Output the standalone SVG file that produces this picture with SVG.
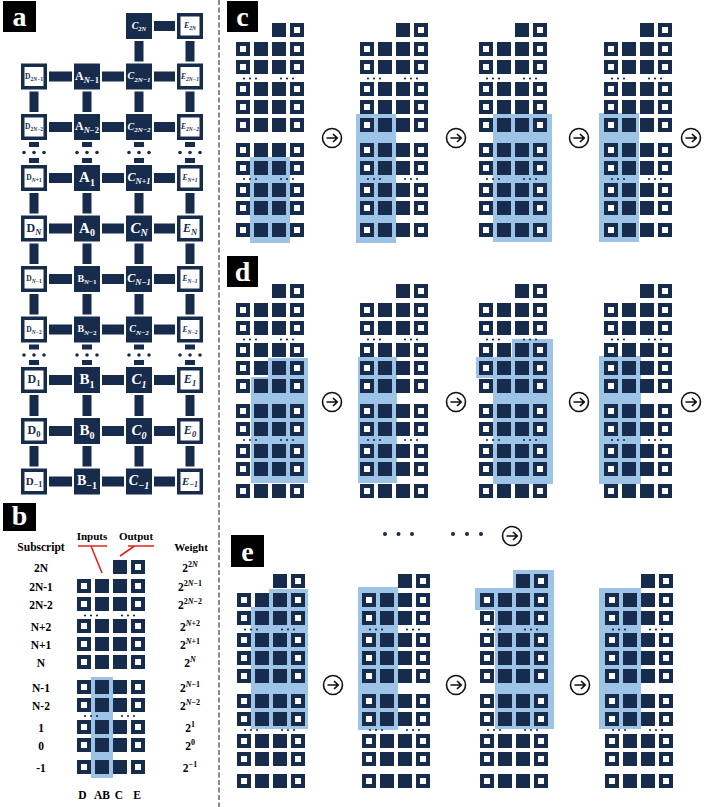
<svg xmlns="http://www.w3.org/2000/svg" width="706" height="807" viewBox="0 0 706 807">
<style>
.dk{fill:#172b4d}
.hl{fill:#9dc3e6}
.fb{fill:#172b4d}
.ob{fill:#fff;stroke:#172b4d;stroke-width:3.5}
.cn{fill:#172b4d}
.t{font-family:"Liberation Serif","DejaVu Serif",serif;font-weight:700;text-anchor:middle}
.lw{fill:#fff}
.ld{fill:#172b4d}
.k{fill:#000}
.i{font-style:italic}
.red{stroke:#e3241b;stroke-width:1.6;fill:none}
.tagt{font-family:"Liberation Serif","DejaVu Serif",serif;font-weight:700;font-size:28px;fill:#fff;text-anchor:middle}
.bt{font-size:11.5px}
</style>
<defs>
<rect id="F" width="14" height="14" class="dk"/>
<g id="O"><rect width="14" height="14" class="dk"/><rect x="4" y="4" width="6" height="6" fill="#fff"/></g>
<g id="arr">
<use href="#F" x="36" y="0"/><use href="#O" x="54" y="0"/>
<use href="#O" x="0" y="19"/><use href="#F" x="18" y="19"/><use href="#F" x="36" y="19"/><use href="#O" x="54" y="19"/>
<use href="#O" x="0" y="37"/><use href="#F" x="18" y="37"/><use href="#F" x="36" y="37"/><use href="#O" x="54" y="37"/>
<use href="#O" x="0" y="59"/><use href="#F" x="18" y="59"/><use href="#F" x="36" y="59"/><use href="#O" x="54" y="59"/>
<use href="#O" x="0" y="77"/><use href="#F" x="18" y="77"/><use href="#F" x="36" y="77"/><use href="#O" x="54" y="77"/>
<use href="#O" x="0" y="95"/><use href="#F" x="18" y="95"/><use href="#F" x="36" y="95"/><use href="#O" x="54" y="95"/>
<use href="#O" x="0" y="120"/><use href="#F" x="18" y="120"/><use href="#F" x="36" y="120"/><use href="#O" x="54" y="120"/>
<use href="#O" x="0" y="138"/><use href="#F" x="18" y="138"/><use href="#F" x="36" y="138"/><use href="#O" x="54" y="138"/>
<use href="#O" x="0" y="160"/><use href="#F" x="18" y="160"/><use href="#F" x="36" y="160"/><use href="#O" x="54" y="160"/>
<use href="#O" x="0" y="178"/><use href="#F" x="18" y="178"/><use href="#F" x="36" y="178"/><use href="#O" x="54" y="178"/>
<use href="#O" x="0" y="200"/><use href="#F" x="18" y="200"/><use href="#F" x="36" y="200"/><use href="#O" x="54" y="200"/>
<g class="dk">
<circle cx="8" cy="55.5" r="1.1"/><circle cx="14" cy="55.5" r="1.1"/><circle cx="20" cy="55.5" r="1.1"/>
<circle cx="45" cy="55.5" r="1.1"/><circle cx="51" cy="55.5" r="1.1"/><circle cx="57" cy="55.5" r="1.1"/>
<circle cx="8" cy="156" r="1.1"/><circle cx="14" cy="156" r="1.1"/><circle cx="20" cy="156" r="1.1"/>
<circle cx="45" cy="156" r="1.1"/><circle cx="51" cy="156" r="1.1"/><circle cx="57" cy="156" r="1.1"/>
</g>
</g>
<g id="AR"><circle r="9.5" fill="#fff" stroke="#111" stroke-width="1.6"/><path d="M-5.5 0H5M1 -4L5.2 0L1 4" fill="none" stroke="#111" stroke-width="1.7"/></g>
</defs>

<rect width="706" height="807" fill="#fff"/>

<!-- divider -->
<line x1="219" y1="0" x2="219" y2="807" stroke="#8a8a8a" stroke-width="2" stroke-dasharray="5 2.5"/>

<!-- panel tags -->
<g id="tag-a"><rect x="3" y="1" width="33" height="31" fill="#000"/><text class="tagt" x="19.5" y="26">a</text></g>
<g id="tag-b"><rect x="3" y="503" width="33" height="28" fill="#000"/><text class="tagt" x="19.5" y="525">b</text></g>
<g id="tag-c"><rect x="227" y="1" width="31" height="31" fill="#000"/><text class="tagt" x="242.5" y="26">c</text></g>
<g id="tag-d"><rect x="227" y="256" width="31" height="31" fill="#000"/><text class="tagt" x="242.5" y="281">d</text></g>
<g id="tag-e"><rect x="231" y="535" width="33" height="32" fill="#000"/><text class="tagt" x="247.5" y="561">e</text></g>

<!-- panel a connectors -->
<g id="a-connectors" class="cn">
<rect x="154" y="21" width="21" height="10"/>
<rect x="49" y="71.5" width="23" height="10"/><rect x="102" y="71.5" width="22" height="10"/><rect x="154" y="71.5" width="21" height="10"/>
<rect x="49" y="122" width="23" height="10"/><rect x="102" y="122" width="22" height="10"/><rect x="154" y="122" width="21" height="10"/>
<rect x="49" y="173" width="23" height="10"/><rect x="102" y="173" width="22" height="10"/><rect x="154" y="173" width="21" height="10"/>
<rect x="49" y="223.5" width="23" height="10"/><rect x="102" y="223.5" width="22" height="10"/><rect x="154" y="223.5" width="21" height="10"/>
<rect x="49" y="274" width="23" height="10"/><rect x="102" y="274" width="22" height="10"/><rect x="154" y="274" width="21" height="10"/>
<rect x="49" y="324.5" width="23" height="10"/><rect x="102" y="324.5" width="22" height="10"/><rect x="154" y="324.5" width="21" height="10"/>
<rect x="49" y="375" width="23" height="10"/><rect x="102" y="375" width="22" height="10"/><rect x="154" y="375" width="21" height="10"/>
<rect x="49" y="426" width="23" height="10"/><rect x="102" y="426" width="22" height="10"/><rect x="154" y="426" width="21" height="10"/>
<rect x="49" y="476.5" width="23" height="10"/><rect x="102" y="476.5" width="22" height="10"/><rect x="154" y="476.5" width="21" height="10"/>
<!-- verticals -->
<rect x="134.5" y="41" width="9" height="20.5"/><rect x="185.5" y="41" width="9" height="20.5"/>
<rect x="29.5" y="91.5" width="9" height="20.5"/><rect x="82.5" y="91.5" width="9" height="20.5"/><rect x="134.5" y="91.5" width="9" height="20.5"/><rect x="185.5" y="91.5" width="9" height="20.5"/>
<rect x="29" y="142" width="10" height="5"/><rect x="82" y="142" width="10" height="5"/><rect x="134" y="142" width="10" height="5"/><rect x="185" y="142" width="10" height="5"/>
<rect x="29" y="158" width="10" height="5"/><rect x="82" y="158" width="10" height="5"/><rect x="134" y="158" width="10" height="5"/><rect x="185" y="158" width="10" height="5"/>
<circle cx="24" cy="152.5" r="1.8"/><circle cx="34" cy="152.5" r="1.8"/><circle cx="44" cy="152.5" r="1.8"/>
<circle cx="77" cy="152.5" r="1.8"/><circle cx="87" cy="152.5" r="1.8"/><circle cx="97" cy="152.5" r="1.8"/>
<circle cx="129" cy="152.5" r="1.8"/><circle cx="139" cy="152.5" r="1.8"/><circle cx="149" cy="152.5" r="1.8"/>
<circle cx="180" cy="152.5" r="1.8"/><circle cx="190" cy="152.5" r="1.8"/><circle cx="200" cy="152.5" r="1.8"/>
<rect x="29.5" y="193" width="9" height="20.5"/><rect x="82.5" y="193" width="9" height="20.5"/><rect x="134.5" y="193" width="9" height="20.5"/><rect x="185.5" y="193" width="9" height="20.5"/>
<rect x="29.5" y="243.5" width="9" height="20.5"/><rect x="82.5" y="243.5" width="9" height="20.5"/><rect x="134.5" y="243.5" width="9" height="20.5"/><rect x="185.5" y="243.5" width="9" height="20.5"/>
<rect x="29.5" y="294" width="9" height="20.5"/><rect x="82.5" y="294" width="9" height="20.5"/><rect x="134.5" y="294" width="9" height="20.5"/><rect x="185.5" y="294" width="9" height="20.5"/>
<rect x="29" y="344.5" width="10" height="5"/><rect x="82" y="344.5" width="10" height="5"/><rect x="134" y="344.5" width="10" height="5"/><rect x="185" y="344.5" width="10" height="5"/>
<rect x="29" y="360" width="10" height="5"/><rect x="82" y="360" width="10" height="5"/><rect x="134" y="360" width="10" height="5"/><rect x="185" y="360" width="10" height="5"/>
<circle cx="24" cy="355" r="1.8"/><circle cx="34" cy="355" r="1.8"/><circle cx="44" cy="355" r="1.8"/>
<circle cx="77" cy="355" r="1.8"/><circle cx="87" cy="355" r="1.8"/><circle cx="97" cy="355" r="1.8"/>
<circle cx="129" cy="355" r="1.8"/><circle cx="139" cy="355" r="1.8"/><circle cx="149" cy="355" r="1.8"/>
<circle cx="180" cy="355" r="1.8"/><circle cx="190" cy="355" r="1.8"/><circle cx="200" cy="355" r="1.8"/>
<rect x="29.5" y="395" width="9" height="21"/><rect x="82.5" y="395" width="9" height="21"/><rect x="134.5" y="395" width="9" height="21"/><rect x="185.5" y="395" width="9" height="21"/>
<rect x="29.5" y="446" width="9" height="20.5"/><rect x="82.5" y="446" width="9" height="20.5"/><rect x="134.5" y="446" width="9" height="20.5"/><rect x="185.5" y="446" width="9" height="20.5"/>
</g>

<!-- panel a nodes -->
<g id="a-C2N"><rect class="fb" x="126" y="13" width="26" height="26"/><text class="t lw i" x="139" y="28.8" font-size="10">C<tspan font-size="6.5" dy="2.5">2N</tspan></text></g>
<g id="a-E2N"><rect class="ob" x="178.75" y="14.75" width="22.5" height="22.5"/><text class="t ld i" x="190" y="28.2" font-size="8">E<tspan font-size="5.5" dy="2">2N</tspan></text></g>

<g id="a-D2N-1"><rect class="ob" x="22.75" y="65.25" width="22.5" height="22.5"/><text class="t ld" x="34" y="78.6" font-size="7.5">D<tspan font-size="5.5" dy="1.9">2<tspan class="i">N</tspan>−1</tspan></text></g>
<g id="a-AN-1"><rect class="fb" x="74" y="63.5" width="26" height="26"/><text class="t lw" x="87" y="79.9" font-size="12">A<tspan font-size="8.5" dy="3"><tspan class="i">N</tspan>−1</tspan></text></g>
<g id="a-C2N-1"><rect class="fb" x="126" y="63.5" width="26" height="26"/><text class="t lw i" x="139" y="79.3" font-size="10">C<tspan font-size="7" dy="2.5">2N−1</tspan></text></g>
<g id="a-E2N-1"><rect class="ob" x="178.75" y="65.25" width="22.5" height="22.5"/><text class="t ld i" x="190" y="78.6" font-size="7.5">E<tspan font-size="5.5" dy="1.9">2N−1</tspan></text></g>

<g id="a-D2N-2"><rect class="ob" x="22.75" y="115.75" width="22.5" height="22.5"/><text class="t ld" x="34" y="129.1" font-size="7.5">D<tspan font-size="5.5" dy="1.9">2<tspan class="i">N</tspan>−2</tspan></text></g>
<g id="a-AN-2"><rect class="fb" x="74" y="114" width="26" height="26"/><text class="t lw" x="87" y="130.4" font-size="12">A<tspan font-size="8.5" dy="3"><tspan class="i">N</tspan>−2</tspan></text></g>
<g id="a-C2N-2"><rect class="fb" x="126" y="114" width="26" height="26"/><text class="t lw i" x="139" y="129.8" font-size="10">C<tspan font-size="7" dy="2.5">2N−2</tspan></text></g>
<g id="a-E2N-2"><rect class="ob" x="178.75" y="115.75" width="22.5" height="22.5"/><text class="t ld i" x="190" y="129.1" font-size="7.5">E<tspan font-size="5.5" dy="1.9">2N−2</tspan></text></g>

<g id="a-DN+1"><rect class="ob" x="22.75" y="166.75" width="22.5" height="22.5"/><text class="t ld" x="34" y="180.1" font-size="7.5">D<tspan font-size="5.5" dy="1.9"><tspan class="i">N</tspan>+1</tspan></text></g>
<g id="a-A1"><rect class="fb" x="74" y="165" width="26" height="26"/><text class="t lw" x="87" y="182.2" font-size="15">A<tspan font-size="10" dy="3.5">1</tspan></text></g>
<g id="a-CN+1"><rect class="fb" x="126" y="165" width="26" height="26"/><text class="t lw i" x="139" y="181.4" font-size="12">C<tspan font-size="8.5" dy="3">N+1</tspan></text></g>
<g id="a-EN+1"><rect class="ob" x="178.75" y="166.75" width="22.5" height="22.5"/><text class="t ld i" x="190" y="180.1" font-size="7.5">E<tspan font-size="5.5" dy="1.9">N+1</tspan></text></g>

<g id="a-DN"><rect class="ob" x="22.75" y="217.25" width="22.5" height="22.5"/><text class="t ld" x="34" y="231.9" font-size="12">D<tspan class="i" font-size="8.5" dy="3">N</tspan></text></g>
<g id="a-A0"><rect class="fb" x="74" y="215.5" width="26" height="26"/><text class="t lw" x="87" y="232.7" font-size="15">A<tspan font-size="10" dy="3.5">0</tspan></text></g>
<g id="a-CN"><rect class="fb" x="126" y="215.5" width="26" height="26"/><text class="t lw i" x="139" y="232.7" font-size="15">C<tspan font-size="10" dy="3.5">N</tspan></text></g>
<g id="a-EN"><rect class="ob" x="178.75" y="217.25" width="22.5" height="22.5"/><text class="t ld i" x="190" y="231.9" font-size="12">E<tspan font-size="8.5" dy="3">N</tspan></text></g>

<g id="a-DN-1"><rect class="ob" x="22.75" y="267.75" width="22.5" height="22.5"/><text class="t ld" x="34" y="281.1" font-size="7.5">D<tspan font-size="5.5" dy="1.9"><tspan class="i">N</tspan>−1</tspan></text></g>
<g id="a-BN-1"><rect class="fb" x="74" y="266" width="26" height="26"/><text class="t lw" x="87" y="281.8" font-size="10">B<tspan font-size="7" dy="2.5"><tspan class="i">N</tspan>−1</tspan></text></g>
<g id="a-CN-1"><rect class="fb" x="126" y="266" width="26" height="26"/><text class="t lw i" x="139" y="282.4" font-size="12">C<tspan font-size="8.5" dy="3">N−1</tspan></text></g>
<g id="a-EN-1"><rect class="ob" x="178.75" y="267.75" width="22.5" height="22.5"/><text class="t ld i" x="190" y="281.1" font-size="7.5">E<tspan font-size="5.5" dy="1.9">N−1</tspan></text></g>

<g id="a-DN-2"><rect class="ob" x="22.75" y="318.25" width="22.5" height="22.5"/><text class="t ld" x="34" y="331.6" font-size="7.5">D<tspan font-size="5.5" dy="1.9"><tspan class="i">N</tspan>−2</tspan></text></g>
<g id="a-BN-2"><rect class="fb" x="74" y="316.5" width="26" height="26"/><text class="t lw" x="87" y="332.3" font-size="10">B<tspan font-size="7" dy="2.5"><tspan class="i">N</tspan>−2</tspan></text></g>
<g id="a-CN-2"><rect class="fb" x="126" y="316.5" width="26" height="26"/><text class="t lw i" x="139" y="332.3" font-size="10">C<tspan font-size="7" dy="2.5">N−2</tspan></text></g>
<g id="a-EN-2"><rect class="ob" x="178.75" y="318.25" width="22.5" height="22.5"/><text class="t ld i" x="190" y="331.6" font-size="7.5">E<tspan font-size="5.5" dy="1.9">N−2</tspan></text></g>

<g id="a-D1"><rect class="ob" x="22.75" y="368.75" width="22.5" height="22.5"/><text class="t ld" x="34" y="383.4" font-size="12">D<tspan font-size="8.5" dy="3">1</tspan></text></g>
<g id="a-B1"><rect class="fb" x="74" y="367" width="26" height="26"/><text class="t lw" x="87" y="384.2" font-size="15">B<tspan font-size="10" dy="3.5">1</tspan></text></g>
<g id="a-C1"><rect class="fb" x="126" y="367" width="26" height="26"/><text class="t lw i" x="139" y="384.2" font-size="15">C<tspan font-size="10" dy="3.5">1</tspan></text></g>
<g id="a-E1"><rect class="ob" x="178.75" y="368.75" width="22.5" height="22.5"/><text class="t ld i" x="190" y="383.4" font-size="12">E<tspan font-size="8.5" dy="3">1</tspan></text></g>

<g id="a-D0"><rect class="ob" x="22.75" y="419.75" width="22.5" height="22.5"/><text class="t ld" x="34" y="434.4" font-size="12">D<tspan font-size="8.5" dy="3">0</tspan></text></g>
<g id="a-B0"><rect class="fb" x="74" y="418" width="26" height="26"/><text class="t lw" x="87" y="435.2" font-size="15">B<tspan font-size="10" dy="3.5">0</tspan></text></g>
<g id="a-C0"><rect class="fb" x="126" y="418" width="26" height="26"/><text class="t lw i" x="139" y="435.2" font-size="15">C<tspan font-size="10" dy="3.5">0</tspan></text></g>
<g id="a-E0"><rect class="ob" x="178.75" y="419.75" width="22.5" height="22.5"/><text class="t ld i" x="190" y="434.4" font-size="12">E<tspan font-size="8.5" dy="3">0</tspan></text></g>

<g id="a-D-1"><rect class="ob" x="22.75" y="470.25" width="22.5" height="22.5"/><text class="t ld" x="34" y="484.6" font-size="11">D<tspan font-size="8" dy="2.75">−1</tspan></text></g>
<g id="a-B-1"><rect class="fb" x="74" y="468.5" width="26" height="26"/><text class="t lw" x="87" y="485.4" font-size="14">B<tspan font-size="10" dy="3.5">−1</tspan></text></g>
<g id="a-C-1"><rect class="fb" x="126" y="468.5" width="26" height="26"/><text class="t lw i" x="139" y="485.4" font-size="14">C<tspan font-size="10" dy="3.5">−1</tspan></text></g>
<g id="a-E-1"><rect class="ob" x="178.75" y="470.25" width="22.5" height="22.5"/><text class="t ld i" x="190" y="484.6" font-size="11">E<tspan font-size="8" dy="2.75">−1</tspan></text></g>

<!-- panel b -->
<g id="b-headers" class="t k bt">
<text x="41" y="551">Subscript</text>
<text x="92" y="540" font-size="11">Inputs</text>
<text x="136" y="540" font-size="11">Output</text>
<text x="191" y="551" font-size="11">Weight</text>
</g>
<g id="b-pointers">
<path class="red" d="M78 546H107M91 546L102 573M128 546H154M134.5 546L120 556"/>
</g>
<g id="b-subscripts" class="t k bt">
<text x="41" y="571.5">2N</text>
<text x="41" y="590.5">2N-1</text>
<text x="41" y="608.5">2N-2</text>
<text x="41" y="630.5">N+2</text>
<text x="41" y="648.5">N+1</text>
<text x="41" y="666.5">N</text>
<text x="41" y="691.5">N-1</text>
<text x="41" y="709.5">N-2</text>
<text x="41" y="731.5">1</text>
<text x="41" y="749.5">0</text>
<text x="41" y="771.5">-1</text>
</g>
<g id="b-array"><rect class="hl" x="91" y="677" width="22" height="101"/><use href="#arr" x="77" y="560"/></g>
<g id="b-weights" class="t k bt">
<text x="190" y="571.5">2<tspan font-size="8" dy="-5">2<tspan class="i">N</tspan></tspan></text>
<text x="190" y="590.5">2<tspan font-size="8" dy="-5">2<tspan class="i">N</tspan>−1</tspan></text>
<text x="190" y="608.5">2<tspan font-size="8" dy="-5">2<tspan class="i">N</tspan>−2</tspan></text>
<text x="190" y="630.5">2<tspan font-size="8" dy="-5"><tspan class="i">N</tspan>+2</tspan></text>
<text x="190" y="648.5">2<tspan font-size="8" dy="-5"><tspan class="i">N</tspan>+1</tspan></text>
<text x="190" y="666.5">2<tspan font-size="8" dy="-5" class="i">N</tspan></text>
<text x="190" y="691.5">2<tspan font-size="8" dy="-5"><tspan class="i">N</tspan>−1</tspan></text>
<text x="190" y="709.5">2<tspan font-size="8" dy="-5"><tspan class="i">N</tspan>−2</tspan></text>
<text x="190" y="731.5">2<tspan font-size="8" dy="-5">1</tspan></text>
<text x="190" y="749.5">2<tspan font-size="8" dy="-5">0</tspan></text>
<text x="190" y="771.5">2<tspan font-size="8" dy="-5">−1</tspan></text>
</g>
<g id="b-columns" class="t k bt">
<text x="82.5" y="799">D</text><text x="102" y="799">AB</text><text x="119" y="799">C</text><text x="137" y="799">E</text>
</g>

<!-- panel c -->
<g id="c1"><rect class="hl" x="250" y="157" width="40" height="86"/><use href="#arr" x="236" y="23"/></g>
<g id="c2"><rect class="hl" x="356" y="114" width="40" height="129"/><use href="#arr" x="360" y="23"/></g>
<g id="c3"><rect class="hl" x="493" y="114" width="59" height="128"/><use href="#arr" x="479" y="23"/></g>
<g id="c4"><rect class="hl" x="599" y="113" width="40" height="129"/><use href="#arr" x="604" y="23"/></g>

<!-- panel d -->
<g id="d1"><path class="hl" d="M268 358H308V483H251V377H268Z"/><use href="#arr" x="236" y="284"/></g>
<g id="d2"><rect class="hl" x="358" y="357" width="39" height="126"/><use href="#arr" x="360" y="284"/></g>
<g id="d3"><path class="hl" d="M512 339H553V484H493V378H476V357H512Z"/><use href="#arr" x="479" y="284"/></g>
<g id="d4"><rect class="hl" x="599" y="356" width="42" height="128"/><use href="#arr" x="604" y="284"/></g>

<!-- panel e -->
<g id="e1"><path class="hl" d="M269 589H308V729H251V607H269Z"/><use href="#arr" x="237" y="574"/></g>
<g id="e2"><rect class="hl" x="358" y="587" width="40" height="143"/><use href="#arr" x="362" y="574"/></g>
<g id="e3"><path class="hl" d="M513 570H554V729H495V610H475V588H513Z"/><use href="#arr" x="480" y="574"/></g>
<g id="e4"><rect class="hl" x="599" y="588" width="42" height="141"/><use href="#arr" x="605" y="574"/></g>

<!-- step arrows -->
<g id="steps">
<use href="#AR" x="332" y="138"/><use href="#AR" x="456" y="138"/><use href="#AR" x="579" y="138"/><use href="#AR" x="691" y="138"/>
<use href="#AR" x="332" y="402"/><use href="#AR" x="456" y="402"/><use href="#AR" x="579" y="402"/><use href="#AR" x="691" y="402"/>
<use href="#AR" x="333" y="685"/><use href="#AR" x="456" y="685"/><use href="#AR" x="580" y="685"/>
<g class="dk">
<circle cx="385" cy="534" r="2"/><circle cx="398.5" cy="534" r="2"/><circle cx="412" cy="534" r="2"/>
<circle cx="453" cy="534" r="2"/><circle cx="467" cy="534" r="2"/><circle cx="481" cy="534" r="2"/>
</g>
<use href="#AR" x="512" y="536"/>
</g>
</svg>
